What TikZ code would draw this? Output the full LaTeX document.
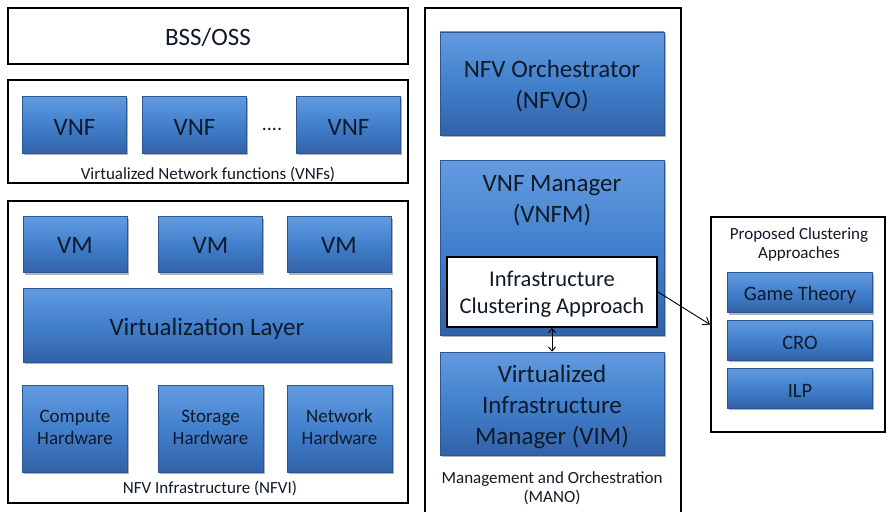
\documentclass[tikz,border=0pt]{standalone}
\usepackage{fontspec}
\setmainfont{Carlito}
\usetikzlibrary{shadows,arrows.meta}
\definecolor{bluetop}{HTML}{639BDF}
\definecolor{bluemid}{HTML}{4280CD}
\definecolor{bluebot}{HTML}{3262A8}
\definecolor{blueedge}{HTML}{2D5790}
\definecolor{txt}{HTML}{101A28}
\newcommand{\dn}[2][3pt]{\raisebox{-#1}[\height][\depth]{\begin{tabular}{@{}c@{}}#2\end{tabular}}}
\begin{document}
\begin{tikzpicture}[x=1pt,y=-1pt,
  panel/.style={draw=black, line width=2.6pt, fill=white},
  thinpanel/.style={draw=black, line width=2pt, fill=white},
  bluebox/.style={draw=blueedge, line width=0.6pt, top color=bluetop, bottom color=bluebot, middle color=bluemid, inner sep=0pt, text=txt,
    drop shadow={shadow xshift=1.5pt, shadow yshift=-2pt, fill=black, opacity=0.3}},
  big/.style={font=\fontsize{25}{31}\selectfont},
  mid/.style={font=\fontsize{22.5}{27}\selectfont},
  hw/.style={font=\fontsize{19}{22.5}\selectfont},
  sm/.style={font=\fontsize{20.5}{24}\selectfont},
  lbl/.style={font=\fontsize{17}{19}\selectfont, text=txt, align=center, inner sep=0pt},
  conn/.style={draw=black, line width=0.9pt}
]
\useasboundingbox (0,0) rectangle (888,511);

% BSS/OSS
\node[panel, minimum width=400pt, minimum height=56pt, big, text=txt, inner sep=0pt] (bss) at (208,36) {\dn[3pt]{BSS/OSS}};

% VNF panel
\node[panel, minimum width=400pt, minimum height=103pt] (vnfpanel) at (208,131.5) {};
\node[bluebox, big, minimum width=104pt, minimum height=57pt] (vnf1) at (74.5,124.5) {\dn[5pt]{VNF}};
\node[bluebox, big, minimum width=104pt, minimum height=57pt] (vnf2) at (194.5,124.5) {\dn[5pt]{VNF}};
\node[font=\fontsize{20}{24}\selectfont, text=txt] (dots) at (272,129) {....};
\node[bluebox, big, minimum width=104pt, minimum height=57pt] (vnf3) at (348.5,124.5) {\dn[5pt]{VNF}};
\node[lbl] (vnflbl) at (208,174) {Virtualized Network functions (VNFs)};

% NFVI panel
\node[panel, minimum width=400pt, minimum height=302pt] (nfvi) at (208,352) {};
\node[bluebox, big, minimum width=104pt, minimum height=56pt] (vm1) at (75,244.5) {\dn[3pt]{VM}};
\node[bluebox, big, minimum width=104pt, minimum height=56pt] (vm2) at (210.5,244.5) {\dn[3pt]{VM}};
\node[bluebox, big, minimum width=104pt, minimum height=56pt] (vm3) at (339,244.5) {\dn[3pt]{VM}};
\node[bluebox, big, minimum width=368pt, minimum height=74pt] (virt) at (207,325) {\dn[4pt]{Virtualization Layer}};
\node[bluebox, hw, minimum width=105pt, minimum height=87pt] (comp) at (75,428.5) {\dn[0.5pt]{Compute\\Hardware}};
\node[bluebox, hw, minimum width=105pt, minimum height=87pt] (stor) at (210.5,428.5) {\dn[0.5pt]{Storage\\Hardware}};
\node[bluebox, hw, minimum width=105pt, minimum height=87pt] (netw) at (339.5,428.5) {\dn[0.5pt]{Network\\Hardware}};
\node[lbl] (nfvilbl) at (210,488) {NFV Infrastructure (NFVI)};

% MANO panel
\draw[thinpanel] (425,8) rectangle (681,516);
\node[bluebox, big, minimum width=224pt, minimum height=103pt] (nfvo) at (552,83.5) {\dn[3.5pt]{NFV Orchestrator\\(NFVO)}};
\node[bluebox, minimum width=224pt, minimum height=175pt] (vnfm) at (552,247.5) {};
\node[big, text=txt, align=center, inner sep=0pt] (vnfmtxt) at (552,201) {VNF Manager\\(VNFM)};
\node[draw=black, line width=2pt, fill=white, mid, text=txt, inner sep=0pt, minimum width=210pt, minimum height=70pt] (ica) at (552,292) {\dn[2.5pt]{Infrastructure\\Clustering Approach}};
\node[bluebox, big, minimum width=224pt, minimum height=103pt] (vim) at (552,403.5) {\dn[4pt]{Virtualized\\Infrastructure\\Manager (VIM)}};
\node[lbl] (manolbl) at (552,488) {Management and Orchestration\\(MANO)};

% Right panel
\node[thinpanel, minimum width=174pt, minimum height=215pt] (rp) at (798,324.5) {};
\node[lbl] (rplbl) at (799,244.5) {Proposed Clustering\\Approaches};
\node[bluebox, sm, minimum width=145pt, minimum height=40pt] (gt) at (800,292.5) {\dn[3pt]{Game Theory}};
\node[bluebox, sm, minimum width=145pt, minimum height=40pt] (cro) at (800,340) {\dn[5pt]{CRO}};
\node[bluebox, sm, minimum width=145pt, minimum height=40pt] (ilp) at (800,388) {\dn[5pt]{ILP}};

% connectors
\draw[conn, {Straight Barb[length=4pt,width=7pt]}-{Straight Barb[length=4pt,width=7pt]}] (ica.south) -- (vim.north);
\draw[conn, -{Straight Barb[length=6pt,width=9pt]}] (ica.east) -- (rp.west);
\end{tikzpicture}
\end{document}
